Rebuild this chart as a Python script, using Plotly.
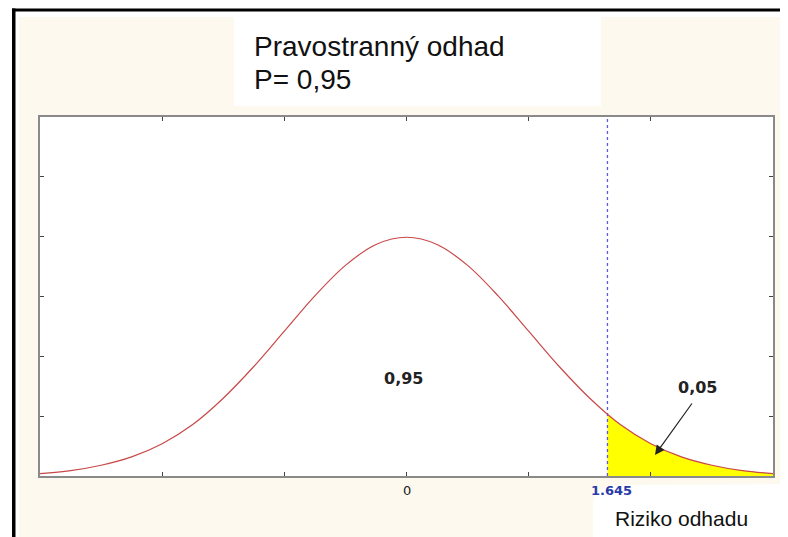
import plotly.graph_objects as go

# ---- data ----
curve_x = [-3.0, -2.75, -2.5, -2.25, -2.0, -1.75, -1.5, -1.25, -1.0, -0.75, -0.5, -0.25,
           0.0, 0.25, 0.5, 0.75, 1.0, 1.25, 1.5, 1.75, 2.0, 2.25, 2.5, 2.75, 3.0]
curve_y = [0.004, 0.009, 0.018, 0.032, 0.054, 0.086, 0.130, 0.183, 0.242, 0.301, 0.352, 0.387,
           0.399, 0.387, 0.352, 0.301, 0.242, 0.183, 0.130, 0.086, 0.054, 0.032, 0.018, 0.009, 0.004]
tail_x = [1.645, 1.75, 2.0, 2.25, 2.5, 2.75, 3.0]
tail_y = [0.103, 0.086, 0.054, 0.032, 0.018, 0.009, 0.004]
critical = 1.645
x_ticks = [-3, -2, -1, 0, 1, 2, 3]
y_ticks = [0, 0.1, 0.2, 0.3, 0.4, 0.5, 0.6]
x_labels = {0: "0", 1.645: "<b>1.645</b>"}
title_lines = ["Pravostranný odhad", "P= 0,95"]
center_label = "0,95"
tail_label = "0,05"
risk_label = "Riziko odhadu"

# ---- layout geometry (screen pixels of the target; page body adds 8px margin) ----
OFF = 8
W, H = 788, 537
FW, FH = W - OFF, H - OFF
L, T, R, B = 40, 117, 773, 476


def px_x(px):
    return (px - L) / (R - L)


def px_y(py):
    return (B - py) / (B - T)


CREAM = "#FDF9EF"

fig = go.Figure()

fig.add_trace(go.Scatter(x=tail_x, y=tail_y, mode="lines", fill="tozeroy",
                         fillcolor="#FFFF00", line=dict(color="#FFFF00", width=0, shape="spline"),
                         hoverinfo="skip", showlegend=False))
fig.add_trace(go.Scatter(x=[critical, critical], y=[0, 0.6], mode="lines",
                         line=dict(color="#5A5AE6", width=1.3, dash="dot"),
                         hoverinfo="skip", showlegend=False))
fig.add_trace(go.Scatter(x=curve_x, y=curve_y, mode="lines",
                         line=dict(color="#C84848", width=1.2, shape="spline"),
                         showlegend=False))

shapes = [
    dict(type="rect", xref="paper", yref="paper", layer="below",
         x0=px_x(19), x1=px_x(W + 20), y0=px_y(H + 20), y1=px_y(17),
         fillcolor=CREAM, line=dict(width=0)),
    dict(type="rect", xref="paper", yref="paper", layer="below",
         x0=px_x(234), x1=px_x(601), y0=px_y(106), y1=px_y(17),
         fillcolor="white", line=dict(width=0)),
    dict(type="rect", xref="paper", yref="paper", layer="below",
         x0=0, x1=1, y0=0, y1=1, fillcolor="white", line=dict(width=0)),
    dict(type="rect", xref="paper", yref="paper", layer="below",
         x0=px_x(12), x1=px_x(W + 20), y0=px_y(11.5), y1=px_y(8.5),
         fillcolor="black", line=dict(width=0)),
    dict(type="rect", xref="paper", yref="paper", layer="below",
         x0=px_x(12), x1=px_x(15.5), y0=px_y(H + 20), y1=px_y(8.5),
         fillcolor="black", line=dict(width=0)),
]

path = "M {} {} L {} {} Q {} {} {} {} L {} {} L {} {} L {} {} Z".format(
    px_x(593), px_y(H + 20),
    px_x(593), px_y(503),
    px_x(594), px_y(486), px_x(618), px_y(485),
    px_x(785), px_y(484),
    px_x(W + 20), px_y(484),
    px_x(W + 20), px_y(H + 20))
shapes.append(dict(type="path", xref="paper", yref="paper", layer="below", path=path,
                   fillcolor="white", line=dict(width=0)))

annotations = [
    dict(xref="paper", yref="paper", x=px_x(252), y=px_y(46), text=title_lines[0],
         xanchor="left", yanchor="middle", showarrow=False,
         font=dict(family="Liberation Sans, Arial", size=28, color="#111")),
    dict(xref="paper", yref="paper", x=px_x(252), y=px_y(79), text=title_lines[1],
         xanchor="left", yanchor="middle", showarrow=False,
         font=dict(family="Liberation Sans, Arial", size=28, color="#111")),
    dict(xref="paper", yref="paper", x=px_x(403), y=px_y(378), text="<b>" + center_label + "</b>",
         xanchor="center", yanchor="middle", showarrow=False,
         font=dict(family="DejaVu Sans", size=16, color="#222")),
    dict(xref="paper", yref="paper", x=px_x(697), y=px_y(387), text="<b>" + tail_label + "</b>",
         xanchor="center", yanchor="middle", showarrow=False,
         font=dict(family="DejaVu Sans", size=16, color="#222")),
    dict(xref="paper", yref="paper", x=px_x(681), y=px_y(518), text=risk_label,
         xanchor="center", yanchor="middle", showarrow=False,
         font=dict(family="Liberation Sans, Arial", size=21, color="#111")),
    dict(xref="paper", yref="paper", x=px_x(655), y=px_y(455), text="",
         showarrow=True, ax=38, ay=-53, arrowhead=2, arrowsize=1.6, arrowwidth=1.2,
         arrowcolor="#222"),
]
for xv, txt in x_labels.items():
    annotations.append(dict(
        xref="x", yref="paper", x=xv, y=px_y(490), text=txt,
        xanchor="center", yanchor="middle", showarrow=False,
        xshift=4 if xv else 0,
        font=dict(family="DejaVu Sans", size=13,
                  color="#2A3AA8" if xv else "#222")))

fig.update_layout(
    width=FW, height=FH,
    margin=dict(l=L - OFF, r=FW - (R - OFF), t=T - OFF, b=FH - (B - OFF), pad=0),
    paper_bgcolor="white", plot_bgcolor="white",
    shapes=shapes, annotations=annotations,
    xaxis=dict(range=[-3, 3], tickvals=x_ticks, showticklabels=False, ticks="inside",
               ticklen=4, tickcolor="#444", showline=True, linecolor="#8A8A8A", linewidth=2,
               mirror="ticks", showgrid=False, zeroline=False),
    yaxis=dict(range=[0, 0.6], tickvals=y_ticks, showticklabels=False, ticks="inside",
               ticklen=4, tickcolor="#444", showline=True, linecolor="#8A8A8A", linewidth=2,
               mirror="ticks", showgrid=False, zeroline=False),
)

fig.write_html("out.html")
